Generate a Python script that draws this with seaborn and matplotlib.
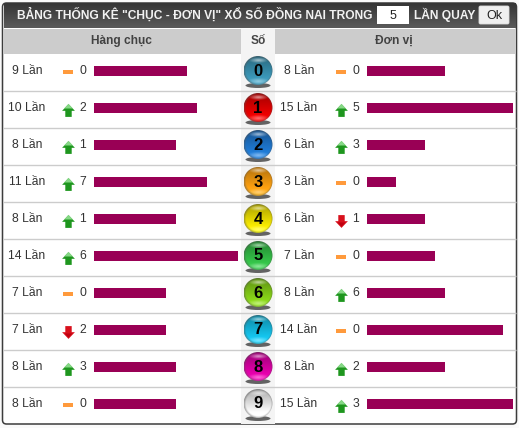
import numpy as np
import pandas as pd
import matplotlib
matplotlib.use("Agg")
import matplotlib.pyplot as plt
import seaborn as sns
from matplotlib.patches import FancyBboxPatch, Rectangle, Circle, Ellipse
from matplotlib.path import Path
from matplotlib.colors import to_rgb

sns.set_style("white")
plt.rcParams['font.family'] = ['Liberation Sans', 'DejaVu Sans']

digits = ['0', '1', '2', '3', '4', '5', '6', '7', '8', '9']
tens_counts = [9, 10, 8, 11, 8, 14, 7, 7, 8, 8]
tens_trend = ['same', 'up', 'up', 'up', 'up', 'up', 'same', 'down', 'up', 'same']
tens_change = [0, 2, 1, 7, 1, 6, 0, 2, 3, 0]
units_counts = [8, 15, 6, 3, 6, 7, 8, 14, 8, 15]
units_trend = ['same', 'up', 'up', 'same', 'down', 'same', 'up', 'same', 'up', 'up']
units_change = [0, 5, 3, 0, 1, 0, 6, 0, 2, 3]
ball_colors = ['#3a94b4', '#e80000', '#1f78d0', '#fa9e10', '#f2e400',
               '#34c048', '#86d018', '#14c0e8', '#e000a8', '#f2f2f2']

W, H = 519, 428
ROW = 37
TOP = 71
BAR = '#990055'
TXT = '#333333'

fig = plt.figure(figsize=(W / 100, H / 100), dpi=100, facecolor='#fafafa')
ax = fig.add_axes([0, 0, 1, 1])
ax.set_axis_off()

# table frame and header
ax.add_patch(FancyBboxPatch((2.5, 3), 514, 421, boxstyle='round,pad=0,rounding_size=4',
                            fc='white', ec='#3c3c3c', lw=1.1, zorder=1))
grad = np.linspace(0, 1, 26)[:, None]
grad_img = np.array(to_rgb('#363636')) * (1 - grad[..., None]) + np.array(to_rgb('#5a5a5a')) * grad[..., None]
ax.imshow(grad_img, extent=(3.5, 515.5, 28, 3), aspect='auto', zorder=2)
ax.add_patch(Rectangle((3, 29), 513, 25, fc='#cccccc', ec='none', zorder=2))
ax.add_patch(Rectangle((241, 29), 34, 394.5, fc='#f4f4f4', ec='none', zorder=2))
for i in range(1, 10):
    y = 53.5 + i * ROW
    ax.plot([3, 516], [y, y], color='#cccccc', lw=1, zorder=3, solid_capstyle='butt')

ax.text(194.5, 14.5, 'BẢNG THỐNG KÊ "CHỤC - ĐƠN VỊ" XỔ SỐ ĐỒNG NAI TRONG', color='#f2f2f2',
        fontsize=8.65, fontweight='bold', ha='center', va='center', zorder=5)
ax.add_patch(Rectangle((377, 6), 32, 18, fc='white', ec='none', zorder=4))
ax.text(393, 15.5, '5', color='#222222', fontsize=9, ha='center', va='center', zorder=5)
ax.text(444.5, 14.5, 'LẦN QUAY', color='#f2f2f2', fontsize=8.65, fontweight='bold',
        ha='center', va='center', zorder=5)
ax.add_patch(FancyBboxPatch((479, 6), 30, 18, boxstyle='round,pad=0,rounding_size=1.5',
                            fc='#efefef', ec='#dddddd', lw=0.6, zorder=4))
ax.text(494, 15.5, 'Ok', color='#222222', fontsize=9, ha='center', va='center', zorder=5)

ax.text(121, 41, 'Hàng chục', color=TXT, fontsize=8.6, fontweight='bold', ha='center', va='center', zorder=5, alpha=0.9)
ax.text(258, 41, 'Số', color=TXT, fontsize=8.6, fontweight='bold', ha='center', va='center', zorder=5, alpha=0.9)
ax.text(394, 41, 'Đơn vị', color=TXT, fontsize=8.6, fontweight='bold', ha='center', va='center', zorder=5, alpha=0.9)

# trend markers
up_arrow = Path([(-1, -0.05), (0, 1), (1, -0.05), (0.5, -0.05), (0.5, -1), (-0.5, -1), (-0.5, -0.05), (-1, -0.05)])
down_arrow = Path([(-1, 0.05), (0, -1), (1, 0.05), (0.5, 0.05), (0.5, 1), (-0.5, 1), (-0.5, 0.05), (-1, 0.05)])
up_head = Path([(-0.8, 0.0), (0, 0.85), (0.8, 0.0), (-0.8, 0.0)])
down_head = Path([(-0.8, 0.0), (0, -0.85), (0.8, 0.0), (-0.8, 0.0)])


def draw_side(counts, trend, change, x_count, x_icon, x_num):
    for i in range(10):
        y = TOP + i * ROW
        ax.text(x_count, y, f'{counts[i]} Lần', color=TXT, fontsize=8.7, ha='center', va='center', zorder=5)
        ax.text(x_num, y, str(change[i]), color=TXT, fontsize=8.7, ha='center', va='center', zorder=5)
        if trend[i] == 'same':
            ax.add_patch(Rectangle((x_icon - 5, y - 1), 10, 4, fc='#ff9a3c', ec='none', zorder=5))
        elif trend[i] == 'up':
            ax.scatter([x_icon], [y + 1.5], marker=up_arrow, s=85, color='#1e961e', lw=0, zorder=5)
            ax.scatter([x_icon], [y - 0.5], marker=up_head, s=45, color='#86d886', lw=0, zorder=6)
        else:
            ax.scatter([x_icon], [y + 1.5], marker=down_arrow, s=85, color='#d8101c', lw=0, zorder=5)
            ax.scatter([x_icon], [y + 2.5], marker=down_head, s=35, color='#c00010', lw=0, zorder=6)


draw_side(tens_counts, tens_trend, tens_change, 27, 68, 82.5)
draw_side(units_counts, units_trend, units_change, 299, 341, 355.5)

# numbered balls
yy, xx = np.mgrid[-1:1:64j, -1:1:64j]
rr = np.sqrt(xx ** 2 + yy ** 2)
for i, d in enumerate(digits):
    y = TOP + i * ROW
    ax.add_patch(Ellipse((258, y + 14.5), 25, 5, fc='#333333', ec='none', alpha=0.75, zorder=4))
    base = np.array(to_rgb(ball_colors[i]))
    # dim at the top, bright towards the lower rim
    shade = np.clip(0.92 + 0.22 * yy, 0, 1.2)
    img = np.clip(base[None, None, :] * shade[..., None], 0, 1)
    glow = np.clip(1 - np.sqrt((xx / 0.8) ** 2 + ((yy - 0.75) / 0.25) ** 2), 0, 1)[..., None]
    img = img * (1 - 0.45 * glow) + 0.45 * glow
    shine = np.clip(1 - np.sqrt((xx / 0.7) ** 2 + ((yy + 0.72) / 0.2) ** 2), 0, 1)[..., None]
    img = img * (1 - 0.6 * shine) + 0.6 * shine
    rim = np.clip((rr - 0.88) / 0.12, 0, 1)[..., None]
    img = img * (1 - 0.45 * rim) + np.array(to_rgb('#555555')) * 0.45 * rim
    im = ax.imshow(img, extent=(243.5, 272.5, y + 14, y - 15), aspect='auto', zorder=5, interpolation='bilinear')
    im.set_clip_path(Circle((258, y - 0.5), 14.5, transform=ax.transData))
    ax.text(258, y, d, color='black', fontsize=12, fontweight='bold', ha='center', va='center', zorder=6)

ax.set_xlim(0, W)
ax.set_ylim(H, 0)


def bar_axes(counts, x0, x1, max_value):
    top = TOP - ROW / 2
    bar_ax = fig.add_axes([x0 / W, 1 - (top + 10 * ROW) / H, (x1 - x0) / W, 10 * ROW / H])
    df = pd.DataFrame({'digit': digits, 'count': counts})
    sns.barplot(data=df, x='count', y='digit', order=digits, color=BAR, saturation=1,
                width=10 / ROW, linewidth=0, ax=bar_ax)
    bar_ax.set_xlim(0, max_value)
    bar_ax.set_axis_off()
    bar_ax.patch.set_alpha(0)


bar_axes(tens_counts, 94, 238, 14)
bar_axes(units_counts, 367, 513, 15)

fig.savefig('out.png', dpi=100)
